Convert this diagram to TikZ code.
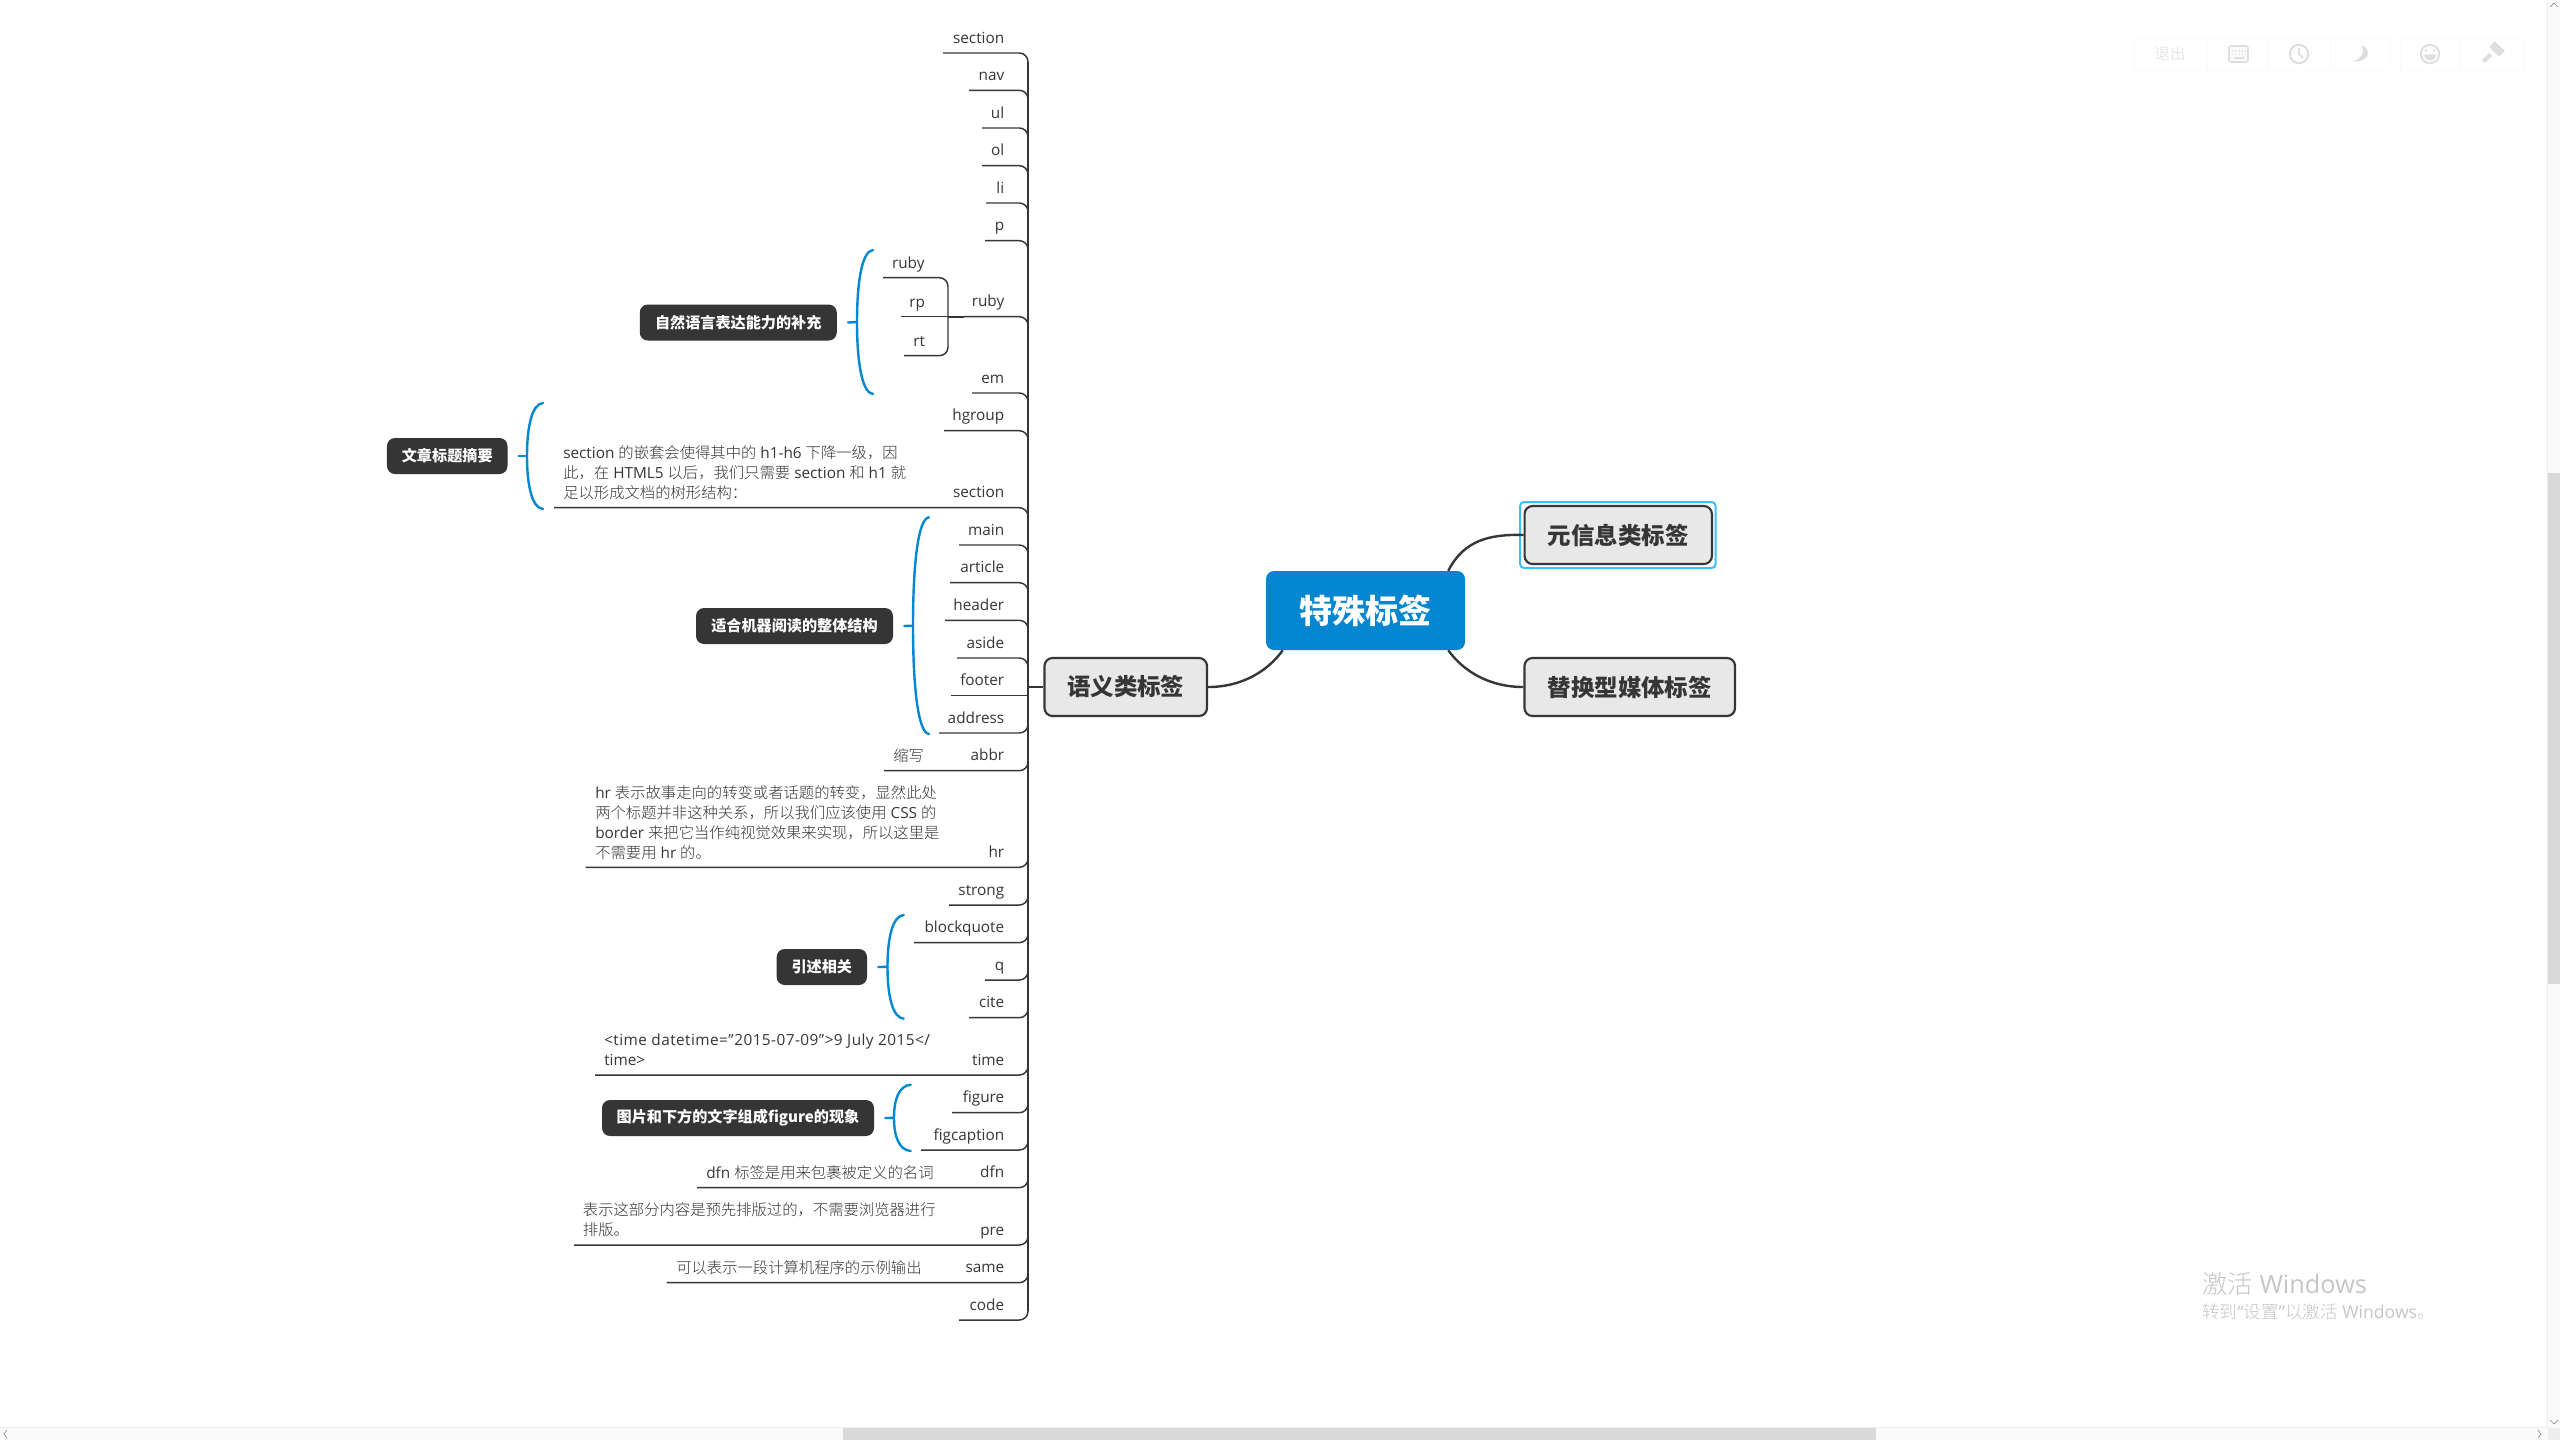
\documentclass[tikz,border=0pt]{standalone}
\usepackage{fontspec}
\usetikzlibrary{calc}
\setmainfont{Open Sans}
\newfontfamily\cjk{Noto Sans CJK SC}
\newfontfamily\cjkl{Noto Sans CJK SC Light}
\newcommand\Z[1]{{\cjkl #1}}
\definecolor{ink}{HTML}{363636}
\definecolor{dark}{HTML}{353535}
\definecolor{mainblue}{HTML}{0486D1}
\definecolor{brace}{HTML}{0288D1}
\definecolor{topicfill}{HTML}{E8E8E8}
\definecolor{sel}{HTML}{3DBEFB}
\definecolor{barbg}{HTML}{FAFAFA}
\definecolor{barline}{HTML}{EDEDED}
\definecolor{thumb}{HTML}{D9D9D9}
\definecolor{faint}{HTML}{DEDEDE}
\definecolor{faintbox}{HTML}{FAFAFA}
\definecolor{water}{HTML}{C6C6C6}
\tikzset{
  txt/.style={text=ink,inner sep=0pt,font=\fontsize{11.5pt}{15pt}\selectfont},
  leaflabel/.style={txt,anchor=base east},
  para/.style={txt,anchor=north west,align=left},
  note/.style={txt,anchor=base west},
  branchline/.style={draw=ink,line width=1.1pt,rounded corners=6.5pt},
  trunkline/.style={draw=ink,line width=1.6pt},
  conn/.style={draw=ink,line width=1.8pt},
  topic/.style={draw=ink,line width=1.6pt,fill=topicfill,rounded corners=6pt,text=ink,
    font=\fontsize{17.6pt}{20pt}\selectfont\cjk\bfseries,inner sep=0pt},
  mainbox/.style={fill=mainblue,rounded corners=6pt,text=white,
    font=\fontsize{24.8pt}{28pt}\selectfont\cjk\bfseries,inner sep=0pt},
  callout/.style={fill=dark,rounded corners=6pt,text=white,
    font=\fontsize{11.35pt}{15pt}\selectfont\cjk\bfseries,inner sep=0pt,minimum height=27pt},
  bracelink/.style={draw=brace,line width=1.8pt,line cap=round},
  faintline/.style={draw=faint,line width=1.2pt},
}
% name, text, line start x, line y, corner: +12 bends down, -12 bends up, 0 straight
\newcommand\leaf[5]{%
  \node[leaflabel] (#1) at (1004.5,#4-10) {#2};
  \coordinate (#1-s) at (#3,#4);
  \coordinate (#1-t) at (1028,#4+#5);
  \draw[branchline] (#1-s) -| (#1-t);
}
% box name, tick-free name, mid x, end x, top y, bottom y
\newcommand\curly[6]{%
  \coordinate (#2-m) at (#3,{#5/2+#6/2});
  \coordinate (#2-tp) at (#4,#5);
  \coordinate (#2-bt) at (#4,#6);
  \draw[bracelink] ($(#1.east)+(11,0)$) -- (#3,{#5/2+#6/2});
  \draw[bracelink] (#2-tp) .. controls (#3+5,#5+1) and (#3,{#5+(#6-#5)*0.22}) .. (#2-m)
     .. controls (#3,{#6-(#6-#5)*0.22}) and (#3+5,#6-1) .. (#2-bt);
}
\begin{document}
\begin{tikzpicture}[x=0.75pt,y=-0.75pt]
\useasboundingbox (0,0) rectangle (2560,1440);
\fill[white] (0,0) rectangle (2560,1440);

% central topics
\node[mainbox,minimum width=149.25pt,minimum height=59.25pt] (root) at (1365.5,610.5) {特殊标签};
\node[topic,minimum width=140.5pt,minimum height=43.5pt] (meta) at (1618.25,535) {元信息类标签};
\node[topic,minimum width=157.9pt,minimum height=43.5pt] (media) at (1629.75,687) {替换型媒体标签};
\node[topic,minimum width=121.9pt,minimum height=43.5pt] (sem) at (1125.75,687) {语义类标签};
\draw[draw=sel,line width=1.5pt,rounded corners=3pt] (1520,502) rectangle (1715.6,568);
\draw[conn] ($(root.north east)+(-17,0)$) .. controls (1464,540) and (1490,534) .. (meta.west);
\draw[conn] ($(root.south east)+(-17,0)$) .. controls (1464,672) and (1490,687) .. (media.west);
\draw[conn] ($(root.south west)+(17,0)$) .. controls (1267,672) and (1241,687) .. (sem.east);

% trunk
\coordinate (trunktop) at (1028,62);
\coordinate (trunkbot) at (1028,1311);
\coordinate (trunkjoin) at (1028,687);
\draw[trunkline] (trunktop) -- (trunkbot);
\draw[conn] (sem.west) -- (trunkjoin);

% leaves
\leaf{lsection}{section}{943}{53}{12}
\leaf{lnav}{nav}{969}{90.3}{12}
\leaf{lul}{ul}{982}{128}{12}
\leaf{lol}{ol}{982}{165.7}{12}
\leaf{lli}{li}{986}{203}{12}
\leaf{lp}{p}{985}{240.7}{12}
\leaf{lruby}{ruby}{964}{316.7}{12}
\leaf{lem}{em}{972}{393}{12}
\leaf{lhgroup}{hgroup}{944}{430.7}{12}
\leaf{lsection2}{section}{554}{507.7}{12}
\leaf{lmain}{main}{959}{545}{12}
\leaf{larticle}{article}{950}{582.7}{12}
\leaf{lheader}{header}{945}{620.3}{12}
\leaf{laside}{aside}{957}{658}{12}
\node[leaflabel] (lfooter) at (1004.5,695.7-10) {footer};
\coordinate (lfooter-s) at (951,695.7);
\coordinate (lfooter-t) at (1028,695.7);
\draw[branchline] (lfooter-s) -- (lfooter-t);
\leaf{laddress}{address}{939}{733}{-12}
\leaf{labbr}{abbr}{884}{770.7}{-12}
\leaf{lhr}{hr}{585.7}{867.3}{-12}
\leaf{lstrong}{strong}{949}{905}{-12}
\leaf{lblock}{blockquote}{914}{942.7}{-12}
\leaf{lq}{q}{985}{980}{-12}
\leaf{lcite}{cite}{969}{1017.7}{-12}
\leaf{ltime}{time}{595}{1075}{-12}
\leaf{lfigure}{figure}{952}{1112.7}{-12}
\leaf{lfigcap}{figcaption}{921}{1150}{-12}
\leaf{ldfn}{dfn}{697}{1187.7}{-12}
\leaf{lpre}{pre}{574}{1245}{-12}
\leaf{lsame}{same}{666.7}{1282.7}{-12}
\leaf{lcode}{code}{959}{1320}{-12}

% ruby children
\node[txt,anchor=base east] (cruby) at (924.8,268) {ruby};
\node[txt,anchor=base east] (crp) at (925.3,307) {rp};
\node[txt,anchor=base east] (crt) at (925.3,346) {rt};
\coordinate (cruby-s) at (883,277.7);
\coordinate (crp-s) at (901,316.7);
\coordinate (crt-s) at (904,355.7);
\coordinate (cjoin) at (948,316.7);
\draw[branchline] (cruby-s) -| (cjoin);
\draw[branchline] (crt-s) -| (cjoin);
\draw[branchline] (crp-s) -- (cjoin);
\draw[draw=ink,line width=1.6pt] (cjoin) -- (lruby-s);

% notes
\node[para] (nsection) at (563,443) {\rule{0pt}{11.25pt}section \Z{的嵌套会使得其中的} h1-h6 \Z{下降一级，因}\\
  \Z{此，在} HTML5 \Z{以后，我们只需要} section \Z{和} h1 \Z{就}\\
  \Z{足以形成文档的树形结构：}};
\node[note] (nabbr) at (893,761) {\Z{缩写}};
\node[para] (nhr) at (595,783) {\rule{0pt}{11.25pt}hr \Z{表示故事走向的转变或者话题的转变，显然此处}\\
  \Z{两个标题并非这种关系，所以我们应该使用} CSS \Z{的}\\
  border \Z{来把它当作纯视觉效果来实现，所以这里是}\\
  \Z{不需要用} hr \Z{的。}};
\node[para] (ntime) at (604,1030) {\rule{0pt}{11.25pt}{\addfontfeatures{LetterSpace=3}<time datetime="2015-07-09">9 July 2015</}\\time>};
\node[note] (ndfn) at (706,1178) {dfn \Z{标签是用来包裹被定义的名词}};
\node[para] (npre) at (582.7,1200) {\rule{0pt}{11.25pt}\Z{表示这部分内容是预先排版过的，不需要浏览器进行}\\\Z{排版。}};
\node[note] (nsame) at (676,1273) {\Z{可以表示一段计算机程序的示例输出}};

% callouts with braces
\node[callout,minimum width=147.75pt] (bnatural) at (738.25,322.5) {自然语言表达能力的补充};
\curly{bnatural}{cnatural}{857}{873}{250}{394}
\node[callout,minimum width=90.4pt] (btitle) at (447.25,456) {文章标题摘要};
\curly{btitle}{ctitle}{527}{543}{403}{509}
\node[callout,minimum width=147.75pt] (bmachine) at (794.5,626) {适合机器阅读的整体结构};
\curly{bmachine}{cmachine}{913}{929}{517.3}{734}
\node[callout,minimum width=67.75pt] (bquote) at (821.85,967) {引述相关};
\curly{bquote}{cquote}{887.5}{903.7}{915}{1018.7}
\node[callout,minimum width=204pt] (bfigure) at (738,1118) {图片和下方的文字组成figure的现象};
\curly{bfigure}{cfigure}{894}{910.7}{1084.7}{1151}

% toolbar
\draw[draw=faintbox,line width=0.75pt] (2134,38) rectangle (2390.5,70);
\draw[draw=faintbox,line width=0.75pt] (2207,38) -- (2207,70) (2268,38) -- (2268,70) (2330,38) -- (2330,70);
\draw[draw=faintbox,line width=0.75pt] (2400,38) rectangle (2523,70);
\draw[draw=faintbox,line width=0.75pt] (2460,38) -- (2460,70);
\node[inner sep=0pt,text=faint,font=\fontsize{11.6pt}{14pt}\selectfont\cjkl] (texit) at (2170,54) {退出};
\draw[faintline,rounded corners=1.5pt,fill=faintbox] (2229,46) rectangle (2248,62);
\foreach \xx in {2232.5,2236,2239.5,2243,2246}{\fill[faint] (\xx-1,50) rectangle (\xx,51.5);\fill[faint] (\xx-1,53.5) rectangle (\xx,55);}
\fill[faint] (2234,57) rectangle (2244,58.5);
\draw[faintline,line width=1.5pt] (2299,54) circle[radius=9.2];
\draw[faintline] (2299,48) -- (2299,54) -- (2303,58);
\fill[faint] (2362,45) .. controls (2373,50) and (2368,64) .. (2352,61) .. controls (2360,60) and (2365,54) .. (2362,45);
\draw[faintline,line width=1.5pt] (2430,54) circle[radius=9.2];
\fill[faint] (2426,50.5) circle[radius=1.3] (2434,50.5) circle[radius=1.3];
\fill[faint] (2424,54.5) -- (2436,54.5) arc[start angle=0,end angle=180,radius=6] -- cycle;
\fill[faint,rotate around={-45:(2497,49)}] (2490,45) rectangle (2504,53);
\fill[faint,rotate around={-45:(2487,58)}] (2485,53) rectangle (2489,63);

% scrollbars
\fill[barbg] (2548,0) rectangle (2560,1428);
\fill[barbg] (0,1428) rectangle (2548,1440);
\draw[draw=barline,line width=0.75pt] (2547.5,0) -- (2547.5,1428);
\draw[draw=barline,line width=0.75pt] (0,1427.5) -- (2548,1427.5);
\fill[thumb] (2548,473) rectangle (2560,984);
\fill[thumb] (843,1428) rectangle (1876,1440);
\fill[barline] (2548,1428) rectangle (2560,1440);
\draw[draw=black!45,line width=0.5pt] (2550,7) -- (2554,3) -- (2558,7);
\draw[draw=black!45,line width=0.5pt] (2550,1420) -- (2554,1424) -- (2558,1420);
\draw[draw=black!45,line width=0.5pt] (7,1430) -- (4,1434) -- (7,1438);
\draw[draw=black!45,line width=0.5pt] (2538,1430) -- (2541,1434) -- (2538,1438);

% watermark
\node[inner sep=0pt,anchor=base west,text=water,font=\fontsize{19pt}{22pt}\selectfont] (wm1) at (2202,1293) {\Z{激活} Windows};
\node[inner sep=0pt,anchor=base west,text=water,font=\fontsize{13.2pt}{15pt}\selectfont] (wm2) at (2202,1318) {\Z{转到}“\Z{设置}”\Z{以激活} Windows\Z{。}};
\end{tikzpicture}
\end{document}
